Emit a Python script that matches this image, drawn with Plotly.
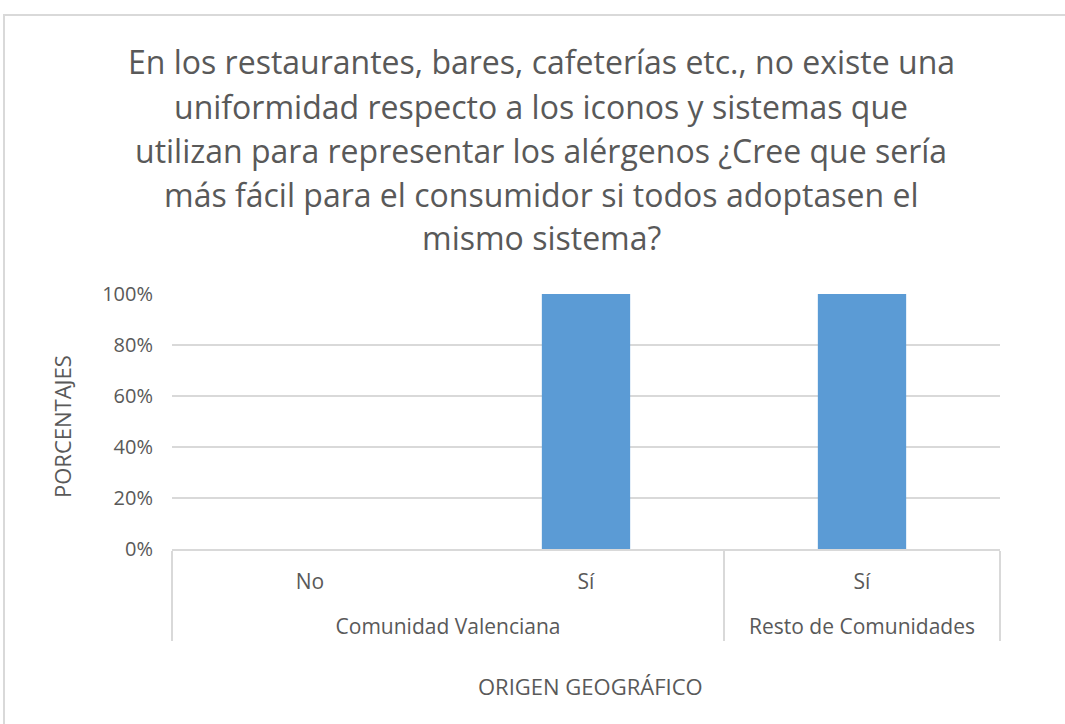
import plotly.graph_objects as go

# datos
regiones = ["Comunidad Valenciana", "Comunidad Valenciana", "Resto de Comunidades"]
respuestas = ["No", "Sí", "Sí"]
porcentajes = [0.0, 1.0, 1.0]
y_ticks = [0, 0.2, 0.4, 0.6, 0.8, 1.0]

titulo = [
    "En los restaurantes, bares, cafeterías etc., no existe una",
    "uniformidad respecto a los iconos y sistemas que",
    "utilizan para representar los alérgenos ¿Cree que sería",
    "más fácil para el consumidor si todos adoptasen el",
    "mismo sistema?",
]

FONT = "Open Sans, Lato, sans-serif"
GRIS = "#595959"

# geometría en píxeles del área de trazado
L, R, T, B = 172, 1000, 294, 549
W, H = 1065, 724


def px_x(x):
    return (x - L) / (R - L)


def px_y(y):
    return (B - y) / (B - T)


# la fila de regiones va más separada, como en Excel
grupos = ["<br>" + r for r in regiones]

fig = go.Figure()
fig.add_trace(go.Bar(x=[grupos, respuestas], y=porcentajes, marker_color="#5B9BD5", marker_line_width=0))

annotations = []
for i, linea in enumerate(titulo):
    annotations.append(dict(text=linea, x=px_x(541), y=px_y(62 + 44 * i), xref="paper", yref="paper",
                            xanchor="center", yanchor="middle", showarrow=False,
                            font=dict(family=FONT, size=32, color=GRIS)))
annotations.append(dict(text="PORCENTAJES", x=px_x(62), y=px_y(427), xref="paper", yref="paper",
                        textangle=-90, xanchor="center", yanchor="middle", showarrow=False,
                        font=dict(family=FONT, size=22, color=GRIS)))
annotations.append(dict(text="ORIGEN GEOGRÁFICO", x=px_x(590), y=px_y(686), xref="paper", yref="paper",
                        xanchor="center", yanchor="middle", showarrow=False,
                        font=dict(family=FONT, size=22, color=GRIS)))

fig.update_layout(
    width=W, height=H,
    margin=dict(l=L, r=W - R, t=T, b=H - B, autoexpand=False),
    paper_bgcolor="white", plot_bgcolor="white",
    bargap=0.68, showlegend=False,
    font=dict(family=FONT, size=21, color=GRIS),
    annotations=annotations,
    shapes=[dict(type="rect", xref="paper", yref="paper",
                 x0=px_x(4), x1=px_x(1075), y0=px_y(734), y1=px_y(15),
                 line=dict(color="#d9d9d9", width=2), layer="below")],
)
fig.update_yaxes(range=[0, 1], tickvals=y_ticks, tickformat=".0%", showgrid=True, gridcolor="#d9d9d9",
                 gridwidth=2, zeroline=False, showline=False, ticks="", ticklabelstandoff=18,
                 tickfont=dict(size=20, color=GRIS))
fig.update_xaxes(type="multicategory", showline=True, linecolor="#d9d9d9", linewidth=2, showdividers=True,
                 dividercolor="#d9d9d9", dividerwidth=2, ticks="", ticklabelstandoff=13,
                 tickfont=dict(size=21, color=GRIS))

fig.write_html("out.html", config={"displayModeBar": False},
               post_script="document.body.style.margin='0';")
